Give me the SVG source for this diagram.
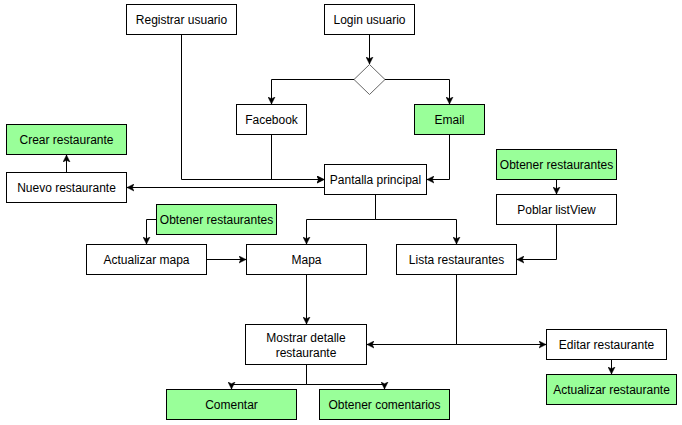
<svg xmlns="http://www.w3.org/2000/svg" width="682" height="425" viewBox="0 0 682 425">
<style>
rect{fill:#ffffff;stroke:#000000;stroke-width:1}
rect.g{fill:#99ff99}
text{font-family:"Liberation Sans",Arial,sans-serif;font-size:12px;fill:#000000;text-anchor:middle}
.c path{fill:none;stroke:#000000;stroke-width:1;marker-end:url(#a)}
</style>
<defs>
<marker id="a" markerUnits="userSpaceOnUse" markerWidth="8" markerHeight="8" viewBox="0 0 8 8" refX="7" refY="4" orient="auto">
<path d="M0,0.5 L7,4 L0,7.5 L1.75,4 z" fill="#000000" stroke="#000000" stroke-width="0.5"/>
</marker>
</defs>
<rect x="0" y="0" width="682" height="425" style="fill:#ffffff;stroke:none"/>
<g class="c" id="connectors">
<path d="M181.5,34.5 V179.5 H324"/>
<path d="M271.5,134.5 V179.5 H324"/>
<path d="M369.5,34.5 V64"/>
<path d="M354,79.5 H271.5 V104"/>
<path d="M385,79.5 H449.5 V104"/>
<path d="M449.5,134.5 V179.5 H427"/>
<path d="M324.5,187.5 H127"/>
<path d="M66.5,172.5 V155"/>
<path d="M375.5,194.5 V219.5 H306.5 V244"/>
<path d="M375.5,194.5 V219.5 H456.5 V244"/>
<path d="M156.5,219.5 H146.5 V244"/>
<path d="M206.5,259.5 H246"/>
<path d="M306.5,274.5 V324"/>
<path d="M456.5,274.5 V344.5 H367"/>
<path d="M456.5,274.5 V344.5 H546"/>
<path d="M556.5,179.5 V194"/>
<path d="M556.5,224.5 V259.5 H517"/>
<path d="M611.5,359.5 V374"/>
<path d="M306.5,364.5 V384.5 H231.5 V389"/>
<path d="M306.5,364.5 V384.5 H384.5 V389"/>
</g>
<g id="registrar"><rect x="126.5" y="4.5" width="110" height="30"/><text x="181.5" y="23.5">Registrar usuario</text></g>
<g id="login"><rect x="324.5" y="4.5" width="90" height="30"/><text x="369.5" y="23.5">Login usuario</text></g>
<g id="decision"><path d="M369.5,64.5 L385,79.5 L369.5,94.5 L354,79.5 Z" fill="#ffffff" stroke="#666666" stroke-width="1"/></g>
<g id="facebook"><rect x="236.5" y="104.5" width="70" height="30"/><text x="271.5" y="123.5">Facebook</text></g>
<g id="email"><rect class="g" x="414.5" y="104.5" width="70" height="30"/><text x="449.5" y="123.5">Email</text></g>
<g id="crear"><rect class="g" x="6.5" y="124.5" width="120" height="30"/><text x="66.5" y="143.5">Crear restaurante</text></g>
<g id="nuevo"><rect x="6.5" y="172.5" width="120" height="30"/><text x="66.5" y="191.5">Nuevo restaurante</text></g>
<g id="pantalla"><rect x="324.5" y="164.5" width="102" height="30"/><text x="375.5" y="183.5">Pantalla principal</text></g>
<g id="obtenerL"><rect class="g" x="156.5" y="204.5" width="120" height="30"/><text x="216.5" y="223.5">Obtener restaurantes</text></g>
<g id="actualizarMapa"><rect x="86.5" y="244.5" width="120" height="30"/><text x="146.5" y="263.5">Actualizar mapa</text></g>
<g id="mapa"><rect x="246.5" y="244.5" width="120" height="30"/><text x="306.5" y="263.5">Mapa</text></g>
<g id="lista"><rect x="396.5" y="244.5" width="120" height="30"/><text x="456.5" y="263.5">Lista restaurantes</text></g>
<g id="obtenerR"><rect class="g" x="496.5" y="149.5" width="120" height="30"/><text x="556.5" y="168.5">Obtener restaurantes</text></g>
<g id="poblar"><rect x="496.5" y="194.5" width="120" height="30"/><text x="556.5" y="213.5">Poblar listView</text></g>
<g id="mostrar"><rect x="245.5" y="324.5" width="121" height="40"/><text x="306" y="342">Mostrar detalle</text><text x="306" y="356.5">restaurante</text></g>
<g id="editar"><rect x="546.5" y="329.5" width="120" height="30"/><text x="606.5" y="348.5">Editar restaurante</text></g>
<g id="actualizarR"><rect class="g" x="546.5" y="374.5" width="130" height="30"/><text x="611.5" y="393.5">Actualizar restaurante</text></g>
<g id="comentar"><rect class="g" x="166.5" y="389.5" width="130" height="30"/><text x="231.5" y="408.5">Comentar</text></g>
<g id="obtenerCom"><rect class="g" x="319.5" y="389.5" width="130" height="30"/><text x="384.5" y="408.5">Obtener comentarios</text></g>
</svg>
